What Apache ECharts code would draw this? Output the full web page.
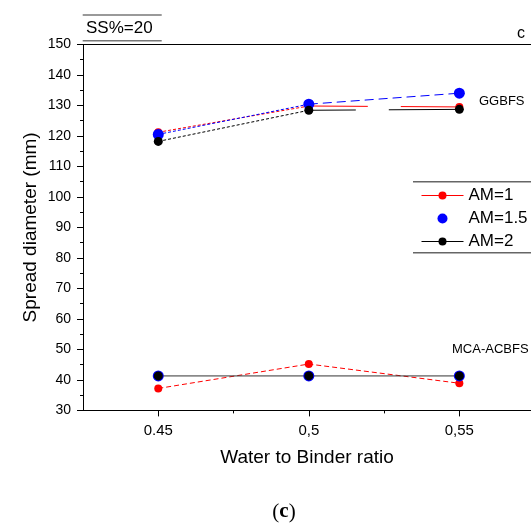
<!DOCTYPE html>
<html>
<head>
<meta charset="utf-8">
<script src="https://cdn.jsdelivr.net/npm/echarts@6/dist/echarts.min.js"></script>
<style>
  html, body { margin: 0; padding: 0; background: #ffffff; }
  #chart { width: 531px; height: 529px; }
</style>
</head>
<body>
<div id="chart"></div>
<script>
// Water to binder ratios on the x axis
const wbRatio = [0.45, 0.5, 0.55];
const wbTickLabels = ['0.45', '0,5', '0,55'];
const wbMinorTicks = [0.475, 0.525];

// Spread diameter (mm), GGBFS mixes
const ggbfsAM1 = [121.2, 129.8, 129.5];
const ggbfsAM15 = [120.5, 130.4, 134.0];
const ggbfsAM2 = [118.2, 128.4, 128.7];

// Spread diameter (mm), MCA-ACBFS mixes
const mcaAM1 = [37.2, 45.2, 38.9];
const mcaAM15 = [41.3, 41.3, 41.3];
const mcaAM2 = [41.3, 41.3, 41.3];

const seriesNames = ['AM=1', 'AM=1.5', 'AM=2'];

const FONT = 'Liberation Sans, Arial, sans-serif';
const RED = '#ff0000', BLUE = '#0000ff', BLACK = '#000000';
const X_MIN = 0.425, X_MAX = 0.5738;

function points(values) {
  return values.map((v, i) => [wbRatio[i], v]);
}
function segment(values, i) {
  return [[wbRatio[i], values[i]], [wbRatio[i + 1], values[i + 1]]];
}
function connector(data, color, type, width) {
  return {
    type: 'line', data: data, symbol: 'none', z: 2, silent: true,
    lineStyle: { color: color, width: width || 1, type: type },
    emphasis: { disabled: true }
  };
}

const series = [
  // GGBFS connectors
  connector(segment(ggbfsAM1, 0), RED, [3, 2]),
  connector(segment(ggbfsAM1, 1), RED, [59, 33, 300]),
  connector(segment(ggbfsAM15, 0), BLUE, [3, 2]),
  connector(segment(ggbfsAM15, 1), BLUE, [9, 5]),
  connector(segment(ggbfsAM2, 0), BLACK, [3, 2]),
  connector(segment(ggbfsAM2, 1), BLACK, [47, 33, 300]),
  // MCA-ACBFS connectors
  connector(points(mcaAM1), RED, [5, 3]),
  connector(points(mcaAM2), '#333333', 'solid'),
  // markers
  {
    name: seriesNames[0], type: 'line', z: 3,
    data: points(ggbfsAM1).concat([null], points(mcaAM1)),
    symbol: 'circle', symbolSize: 8, showSymbol: true,
    itemStyle: { color: RED, opacity: 1 },
    lineStyle: { opacity: 0, color: RED },
    emphasis: { disabled: true }
  },
  {
    name: seriesNames[1], type: 'scatter', z: 4,
    data: points(ggbfsAM15).concat(points(mcaAM15)),
    symbol: 'circle', symbolSize: 11,
    itemStyle: { color: BLUE, opacity: 1 },
    emphasis: { disabled: true }
  },
  {
    name: seriesNames[2], type: 'line', z: 5,
    data: points(ggbfsAM2).concat([null], points(mcaAM2)),
    symbol: 'circle', symbolSize: 9, showSymbol: true,
    itemStyle: { color: BLACK, opacity: 1 },
    lineStyle: { opacity: 0, color: BLACK },
    emphasis: { disabled: true }
  }
];

const chart = echarts.init(document.getElementById('chart'), null, { renderer: 'canvas' });

chart.setOption({
  animation: false,
  backgroundColor: '#ffffff',
  grid: { left: 83, top: 44.4, bottom: 118.6, right: 0, show: false },
  xAxis: [
    {
      type: 'value', min: X_MIN, max: X_MAX, position: 'bottom',
      axisLine: { show: true, lineStyle: { color: '#000', width: 1 } },
      axisTick: { show: true, customValues: wbRatio, length: 6, lineStyle: { color: '#000' } },
      axisLabel: {
        customValues: wbRatio, margin: 13,
        fontFamily: FONT, fontSize: 15, color: '#000',
        formatter: v => {
          const i = wbRatio.findIndex(x => Math.abs(x - v) < 1e-9);
          return i >= 0 ? wbTickLabels[i] : '';
        }
      },
      splitLine: { show: false },
      name: 'Water to Binder ratio', nameLocation: 'middle', nameGap: 38, nameMoveOverlap: false,
      nameTextStyle: { fontFamily: FONT, fontSize: 19, color: '#000' }
    },
    {
      type: 'value', min: X_MIN, max: X_MAX, position: 'bottom',
      axisLine: { show: false },
      axisTick: { show: true, customValues: wbMinorTicks, length: 3, lineStyle: { color: '#000' } },
      axisLabel: { show: false },
      splitLine: { show: false }
    },
    {
      // top frame line
      type: 'value', min: X_MIN, max: X_MAX, position: 'top',
      axisLine: { show: true, lineStyle: { color: '#000', width: 1 } },
      axisTick: { show: false },
      axisLabel: { show: false },
      splitLine: { show: false }
    }
  ],
  yAxis: {
    type: 'value', min: 30, max: 150, interval: 10,
    axisLine: { show: true, lineStyle: { color: '#000', width: 1 } },
    axisTick: { show: true, length: 6, lineStyle: { color: '#000' } },
    minorTick: { show: true, splitNumber: 2, length: 3, lineStyle: { color: '#000' } },
    axisLabel: { margin: 12, fontFamily: FONT, fontSize: 14, color: '#000' },
    splitLine: { show: false },
    name: 'Spread diameter (mm)', nameLocation: 'middle', nameGap: 43, nameMoveOverlap: false,
    nameTextStyle: { fontFamily: FONT, fontSize: 19, color: '#000' }
  },
  legend: {
    orient: 'vertical', left: 416, top: 182,
    itemWidth: 42, itemHeight: 10, itemGap: 6,
    selectedMode: false,
    textStyle: { fontFamily: FONT, fontSize: 17, color: '#000', lineHeight: 17 },
    data: [
      { name: seriesNames[0], lineStyle: { opacity: 1, width: 1, type: 'solid', color: RED } },
      { name: seriesNames[1], icon: 'circle', itemStyle: { opacity: 1 } },
      { name: seriesNames[2], lineStyle: { opacity: 1, width: 1, type: 'solid', color: BLACK } }
    ]
  },
  graphic: [
    // legend frame
    { type: 'line', shape: { x1: 413, y1: 181.7, x2: 531, y2: 181.7 }, style: { stroke: '#666', lineWidth: 1.5 } },
    { type: 'line', shape: { x1: 413, y1: 252.7, x2: 531, y2: 252.7 }, style: { stroke: '#666', lineWidth: 1.5 } },
    // panel tag
    { type: 'line', shape: { x1: 82.7, y1: 15, x2: 161.7, y2: 15 }, style: { stroke: '#777', lineWidth: 1.5 } },
    { type: 'line', shape: { x1: 82.7, y1: 40.7, x2: 161.7, y2: 40.7 }, style: { stroke: '#777', lineWidth: 1.5 } },
    { type: 'text', x: 86, y: 28.5, style: { text: 'SS%=20', font: '17px ' + FONT, fill: '#000', verticalAlign: 'middle' } },
    { type: 'text', x: 517, y: 34, style: { text: 'c', font: '16px ' + FONT, fill: '#000', verticalAlign: 'middle' } },
    // group labels
    { type: 'text', x: 479, y: 101.7, style: { text: 'GGBFS', font: '13px ' + FONT, fill: '#000', verticalAlign: 'middle' } },
    { type: 'text', x: 452, y: 349, style: { text: 'MCA-ACBFS', font: '13px ' + FONT, fill: '#000', verticalAlign: 'middle' } },
    // sub-figure caption
    {
      type: 'text', x: 284, y: 512,
      style: {
        text: '{p|(}{b|c}{p|)}', align: 'center', verticalAlign: 'middle',
        rich: {
          p: { fontFamily: 'Liberation Serif, Times New Roman, serif', fontSize: 21, fill: '#000' },
          b: { fontFamily: 'Liberation Serif, Times New Roman, serif', fontSize: 21, fontWeight: 'bold', fill: '#000' }
        }
      }
    }
  ],
  series: series
});
</script>
</body>
</html>
